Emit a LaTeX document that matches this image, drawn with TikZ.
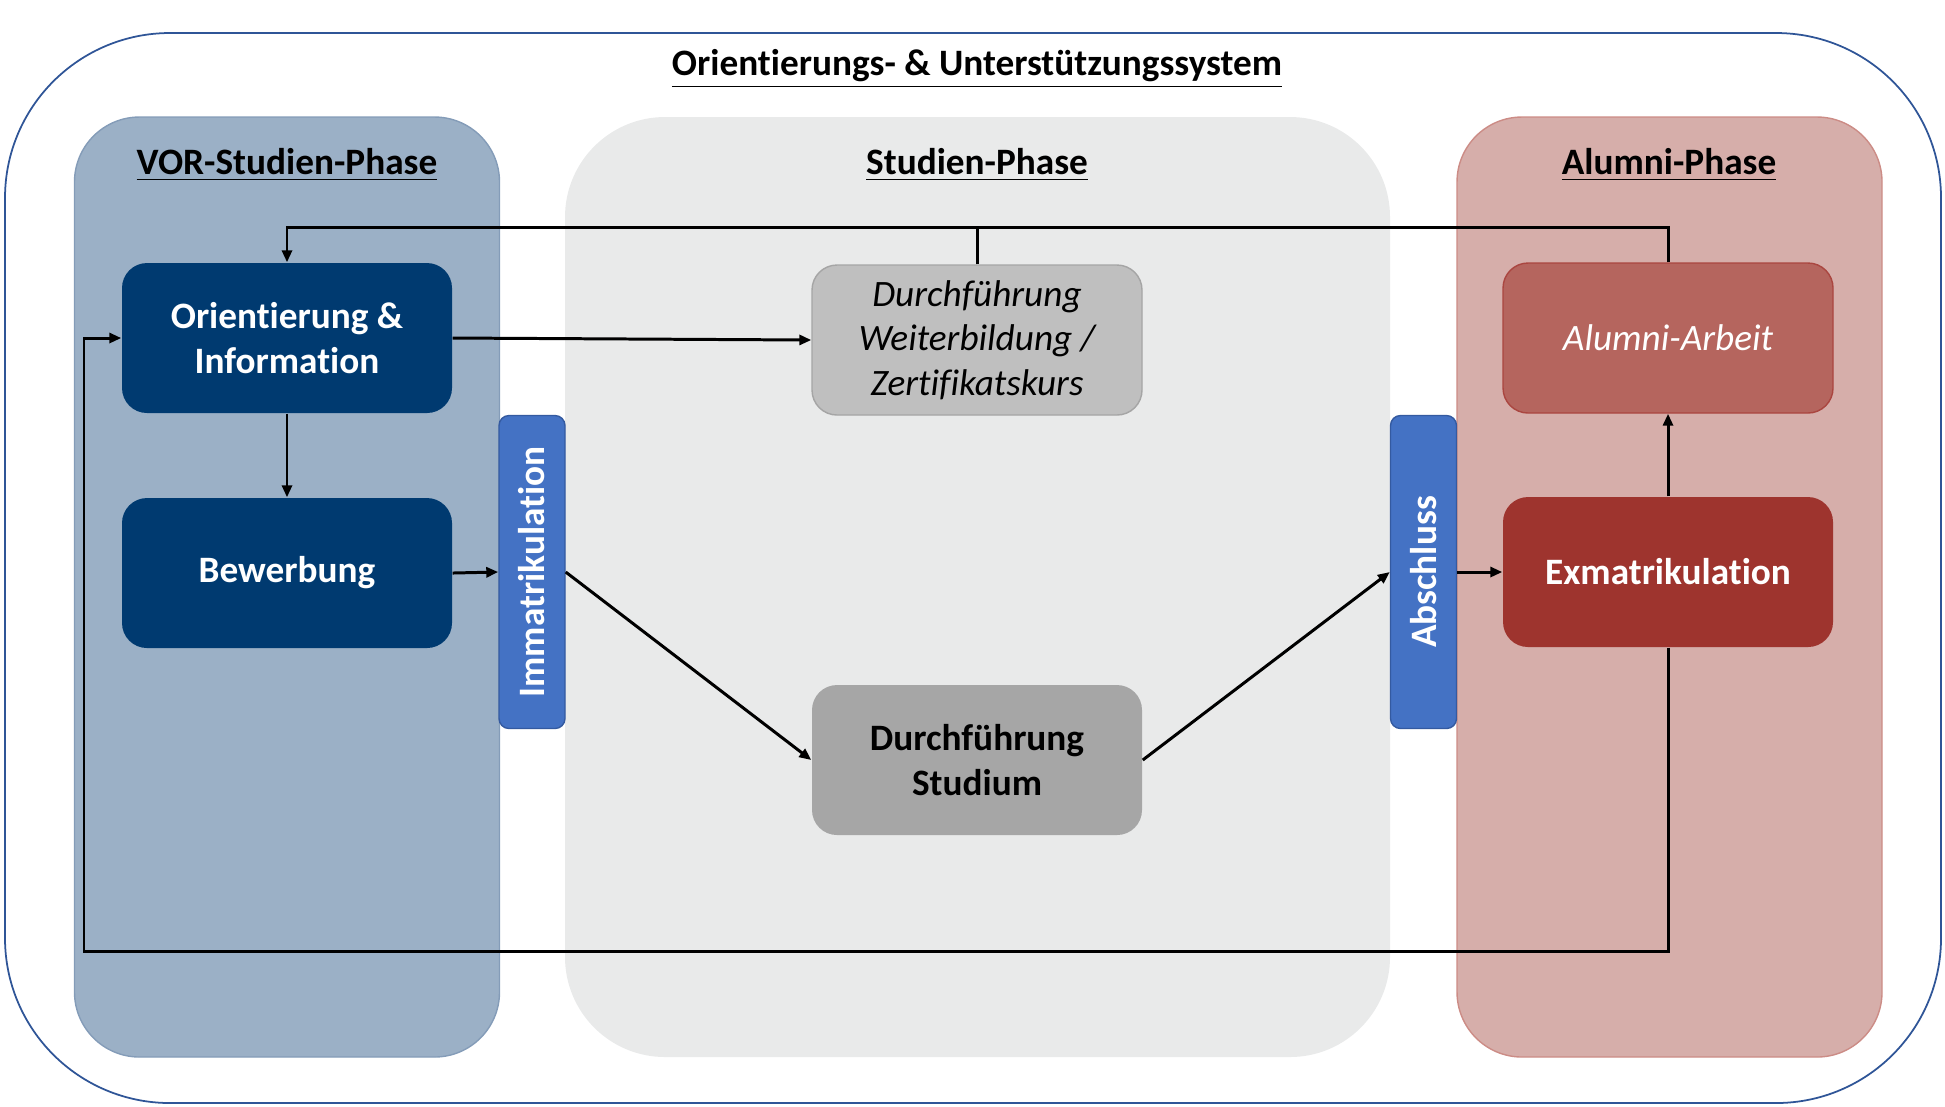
\documentclass[tikz,border=0pt]{standalone}
\usepackage{fontspec,graphicx}
\setmainfont[Ligatures=NoCommon]{Carlito}
\usetikzlibrary{arrows.meta}
\definecolor{frameblue}{RGB}{47,85,151}
\definecolor{vorfill}{RGB}{155,176,198}
\definecolor{vorline}{RGB}{132,156,184}
\definecolor{studfill}{RGB}{233,234,234}
\definecolor{alufill}{RGB}{214,174,170}
\definecolor{aluline}{RGB}{204,140,134}
\definecolor{navy}{RGB}{0,58,112}
\definecolor{barblue}{RGB}{68,114,196}
\definecolor{barline}{RGB}{52,90,160}
\definecolor{greylight}{RGB}{191,191,191}
\definecolor{greyline}{RGB}{165,165,165}
\definecolor{greydark}{RGB}{166,166,166}
\definecolor{rosered}{RGB}{181,101,94}
\definecolor{roseline}{RGB}{170,70,64}
\definecolor{darkred}{RGB}{158,52,46}

\begin{document}
\begin{tikzpicture}[x=0.1mm,y=-0.1mm,font=\fontsize{10.6}{12.7}\selectfont,
phase/.style={rounded corners=6.5mm,line width=0.4pt,minimum width=42.5mm,minimum height=94mm},
box/.style={rounded corners=2.5mm,minimum width=33mm,minimum height=15mm,align=center,line width=0.4pt},
bar/.style={rounded corners=1mm,fill=barblue,draw=barline,line width=0.4pt,minimum width=6.6mm,minimum height=31.3mm,text=white,inner sep=0pt,font=\fontsize{10.6}{12.7}\selectfont\bfseries},
head/.style={font=\fontsize{10.6}{12.7}\selectfont\bfseries},
arr/.style={-{Triangle[length=1.2mm,width=1mm]},line width=0.85pt},
link/.style={line width=0.85pt}]
\useasboundingbox(0,0)rectangle(1945,1106);
\draw[frameblue,line width=0.5pt,rounded corners=16.5mm](5,33)rectangle(1941,1103);
\node[head](title)at(977,69){\underline{Orientierungs- \& Unterstützungssystem}};

\node[phase,fill=vorfill,draw=vorline](vor)at(287,587){};
\node[phase,fill=studfill,minimum width=82.5mm,rounded corners=10mm](stud)at(977.5,587){};
\node[phase,fill=alufill,draw=aluline](alu)at(1669.5,587){};
\node[head](vorhead)at(287,165){\underline{VOR-Studien-Phase}};
\node[head](studhead)at(977,165){\underline{Studien-Phase}};
\node[head](aluhead)at(1669,165){\underline{Alumni-Phase}};

\node[box,fill=navy,text=white,font=\fontsize{10.6}{12.7}\selectfont\bfseries](ori)at(287,338){Orientierung \&\\Information};
\node[box,fill=navy,text=white,font=\fontsize{10.6}{12.7}\selectfont\bfseries](bew)at(287,573){Bewerbung};
\node[bar](immat)at(532,572){\rotatebox{90}{Immatrikulation}};
\node[box,fill=greylight,draw=greyline,font=\fontsize{10.6}{12.7}\selectfont\itshape](weiter)at(977,340){Durchführung\\Weiterbildung /\\Zertifikatskurs};
\node[box,fill=greydark,font=\fontsize{10.6}{12.7}\selectfont\bfseries](durch)at(977,760){Durchführung\\Studium};
\node[bar](absch)at(1423.5,572){\rotatebox{90}{Abschluss}};
\node[box,fill=rosered,draw=roseline,text=white,font=\fontsize{10.6}{12.7}\selectfont\itshape](arbeit)at(1668,338){Alumni-Arbeit};
\node[box,fill=darkred,text=white,font=\fontsize{10.6}{12.7}\selectfont\bfseries](exm)at(1668,572){Exmatrikulation};

\coordinate(topline)at(287,227);
\coordinate(loopline)at(84,951);
\draw[arr](arbeit.north)|-(topline)--(ori.north);
\draw[link](weiter.north)--(weiter.north|-topline);
\draw[arr](ori.east)--(weiter.west);
\draw[arr](ori.south)--(bew.north);
\draw[arr](bew.east)--(immat.west);
\draw[arr](immat.east)--(durch.west);
\draw[arr](durch.east)--(absch.west);
\draw[arr](absch.east)--(exm.west);
\draw[arr](exm.north)--(arbeit.south);
\draw[arr](exm.south)|-(loopline)|-(ori.west);
\end{tikzpicture}
\end{document}
